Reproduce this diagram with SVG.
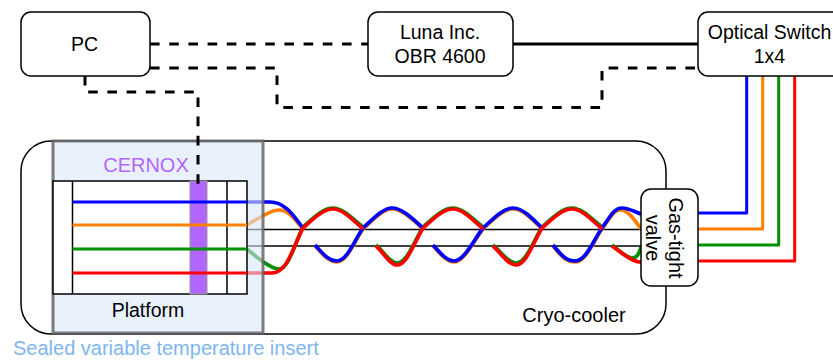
<svg xmlns="http://www.w3.org/2000/svg" width="833" height="360" viewBox="0 0 833 360">
<style>
.box{fill:#fff;stroke:#000;stroke-width:1.5}
.t{font-family:"Liberation Sans",Arial,sans-serif;font-size:19.500px;fill:#000;text-anchor:middle}
.w{fill:none;stroke-width:3;stroke-linejoin:round;stroke-linecap:butt}
.v{stroke-width:3.700}
.d{fill:none;stroke:#000;stroke-width:3;stroke-dasharray:9.6 9.6}
.l{fill:none;stroke:#000;stroke-width:1.5}
.b{stroke:#00f}.o{stroke:#ff8000}.g{stroke:#009000}.r{stroke:#f00}
</style>
<g id="cryo-cooler"><rect class="box" x="21" y="141" width="645" height="193" rx="30"/></g>
<g id="cables">
<path class="l" d="M247 229.500H641M247 246H641"/>
<path class="w v o" d="M247 225C262 216 272 210 279 210C288 210 295 219 303 229"/>
<path class="w v g" d="M247 249C262 262 272 269 279 269C289 269 295 242 303 227C313 218 323 208 333 208C343 208 353 219 363 227"/>
<path class="w v o" d="M363 229C373 220 383 209 392 209C402 209 413 220 423 229M433 246C442 256 447 262 454 262C464 262 473 242 483 229C493 220 503 209 513 209C523 209 533 220 542 229M553 246C561 256 566 262 575 262C586 262 593 242 602 229C610 218 614 210 620 210C628 210 634 219 641 229M315 246C324 256 329 262 337 262C347 262 354 242 363 229"/>
<path class="w v g" d="M423 227C433 218 443 208 453 208C463 208 473 219 483 227M542 227C552 218 562 208 572 208C582 208 592 219 602 227M376 245C384 252 390 263 397 263C407 263 414 242 423 227M493 245C501 252 508 263 516 263C526 263 533 242 542 227M612 245C620 251 627 258 632 258C637 258 639 254 641 247"/>
<path class="w v b" d="M247 202H270C286 202 295 218 303 228M363 228C373 219 383 208 392 208C402 208 413 219 423 228M483 228C493 219 503 208 513 208C523 208 533 219 542 228M602 228C610 217 614 208 622 208C629 208 635 212 641 214M315 245C324 255 329 261 337 261C347 261 354 241 363 228M433 245C442 255 447 261 454 261C464 261 473 241 483 228M553 245C561 255 566 261 575 261C586 261 593 241 602 228"/>
<path class="w v r" d="M247 273H272C288 273 295 242 303 228C313 219 323 209 333 209C343 209 353 220 363 229M423 228C433 219 443 209 453 209C463 209 473 220 483 229M542 228C552 219 562 209 572 209C582 209 592 220 602 229M376 246C384 253 390 265 397 265C407 265 414 243 423 228M493 246C501 253 508 265 516 265C526 265 533 243 542 228M612 246C622 253 632 262 641 262"/>
</g>
<g id="sealed-insert">
<rect x="53" y="141" width="210" height="192" fill="#dae8fc" fill-opacity=".6" stroke="#666" stroke-opacity=".85" stroke-width="3"/>
<text class="t" x="146" y="171.500" style="fill:#b266ff;font-size:20px">CERNOX</text>
<text class="t" x="13" y="355" style="fill:#7eb6f0;text-anchor:start;font-size:20px">Sealed variable temperature insert</text>
</g>
<g id="platform">
<rect x="53" y="181" width="194" height="113" fill="#fff" stroke="#000" stroke-width="1.500"/>
<path class="l" d="M72.500 181V294M227 181V294"/>
<text class="t" x="148" y="316.500">Platform</text>
</g>
<g id="cernox-sensor"><rect x="190" y="181" width="17" height="113" fill="#b266ff" stroke="#999" stroke-width="1"/></g>
<g id="platform-fibres">
<path class="w b" d="M72.500 202H247"/>
<path class="w o" d="M72.500 225H247"/>
<path class="w g" d="M72.500 249H247"/>
<path class="w r" d="M72.500 273H247"/>
</g>
<g id="connectors">
<path class="d" d="M150 44H368"/>
<path class="d" d="M150 68H277V107.500H602V68H698"/>
<path class="d" d="M85 76V92H198V185"/>
<path fill="none" stroke="#000" stroke-width="3" d="M513 44H698"/>
<path class="w b" d="M746.700 76V213H698"/>
<path class="w o" d="M762.700 76V229H698"/>
<path class="w g" d="M778.700 76V245H698"/>
<path class="w r" d="M794.700 76V261H698"/>
</g>
<g id="pc"><rect class="box" x="21" y="12" width="129" height="64" rx="10"/><text class="t" x="84.500" y="51">PC</text></g>
<g id="luna"><rect class="box" x="368" y="12" width="145" height="64" rx="10"/><text class="t" x="440" y="38.500">Luna Inc.</text><text class="t" x="440" y="62.500">OBR 4600</text></g>
<g id="optical-switch"><rect class="box" x="698" y="12" width="145" height="64" rx="10"/><text class="t" x="769.500" y="38.500">Optical Switch</text><text class="t" x="769.500" y="62.500">1x4</text></g>
<g id="gas-tight-valve"><rect class="box" x="641" y="189" width="57" height="97" rx="10"/><text class="t" style="font-size:20px" transform="translate(669 238) rotate(90)">Gas-tight</text><text class="t" style="font-size:20px" transform="translate(645.500 238) rotate(90)">valve</text></g>
<g id="cryo-label"><text class="t" style="font-size:20px" x="574" y="322">Cryo-cooler</text></g>
</svg>
